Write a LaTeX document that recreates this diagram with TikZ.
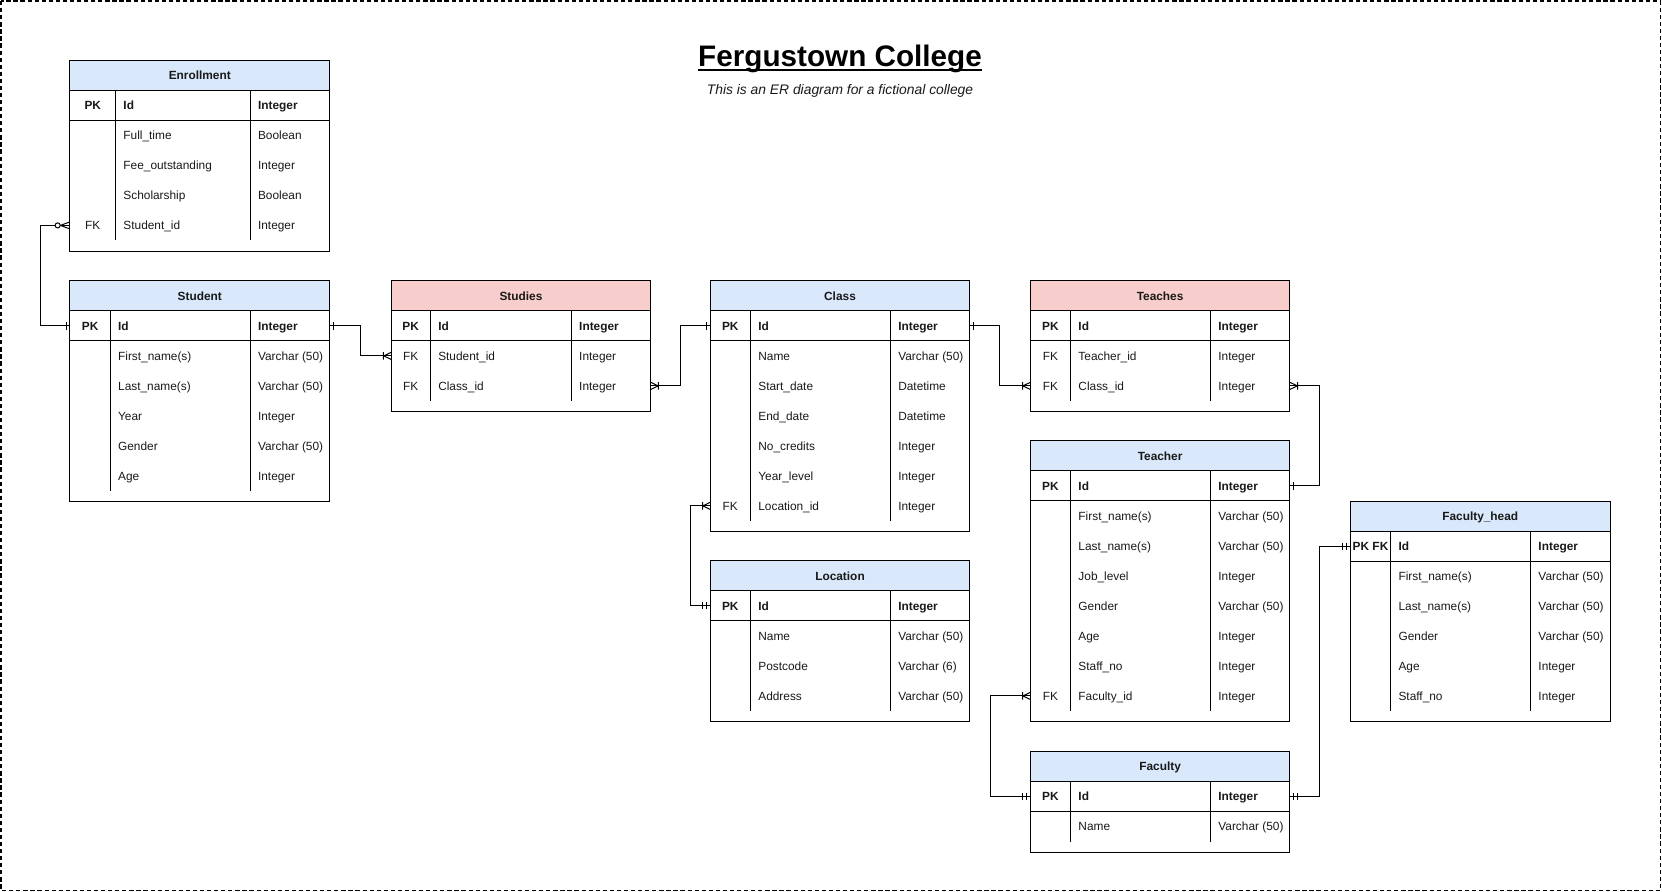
\documentclass[tikz,border=0pt]{standalone}
\usepackage{fontspec}
\setmainfont{Liberation Sans}
\usepackage{tikz}
\usetikzlibrary{arrows}
\definecolor{hdrblue}{HTML}{DAE8FC}
\definecolor{hdrred}{HTML}{F8CECC}

% crow's foot ends, drawn pointing right with the table edge at the origin
\pgfarrowsdeclare{erone}{erone}
{\pgfarrowsleftextend{-3pt}\pgfarrowsrightextend{0pt}}
{\pgfsetdash{}{0pt}\pgfsetbuttcap
 \pgfpathmoveto{\pgfpoint{-2.8pt}{2.6pt}}\pgfpathlineto{\pgfpoint{-2.8pt}{-2.6pt}}
 \pgfusepathqstroke}
\pgfarrowsdeclare{ermandone}{ermandone}
{\pgfarrowsleftextend{-6pt}\pgfarrowsrightextend{0pt}}
{\pgfsetdash{}{0pt}\pgfsetbuttcap
 \pgfpathmoveto{\pgfpoint{-2.5pt}{2.6pt}}\pgfpathlineto{\pgfpoint{-2.5pt}{-2.6pt}}
 \pgfpathmoveto{\pgfpoint{-5.3pt}{2.6pt}}\pgfpathlineto{\pgfpoint{-5.3pt}{-2.6pt}}
 \pgfusepathqstroke}
\pgfarrowsdeclare{eronemany}{eronemany}
{\pgfarrowsleftextend{-6pt}\pgfarrowsrightextend{0pt}}
{\pgfsetdash{}{0pt}\pgfsetbuttcap
 \pgfpathmoveto{\pgfpoint{0pt}{2.5pt}}\pgfpathlineto{\pgfpoint{-5.2pt}{0pt}}\pgfpathlineto{\pgfpoint{0pt}{-2.5pt}}
 \pgfpathmoveto{\pgfpoint{-5.4pt}{2.6pt}}\pgfpathlineto{\pgfpoint{-5.4pt}{-2.6pt}}
 \pgfusepathqstroke}
\pgfarrowsdeclare{erzeromany}{erzeromany}
{\pgfarrowsleftextend{-11pt}\pgfarrowsrightextend{0pt}}
{\pgfsetdash{}{0pt}\pgfsetbuttcap
 \pgfpathmoveto{\pgfpoint{0pt}{2.5pt}}\pgfpathlineto{\pgfpoint{-6.8pt}{0pt}}\pgfpathlineto{\pgfpoint{0pt}{-2.5pt}}
 \pgfusepathqstroke
 \pgfpathcircle{\pgfpoint{-8.7pt}{0pt}}{1.8pt}
 \pgfsetfillcolor{white}\pgfusepathqfillstroke}

% #1 name, #2 top left, #3 title, #4 header fill, #5 key column width, #6 pk key, #7 no. of rows, #8 rows
\newcommand{\ertable}[8]{%
  \begin{scope}[shift={#2}]
    \node[hdr,fill=#4] (#1) at (0,0) {#3};
    \node[rowbox] (#1-pk) at (0,28.3) {};
    \node[keycell,bold] (#1-pk-k) at (#5/2,42.45) {#6};
    \node[cell,bold] (#1-pk-n) at (#5+7,42.45) {Id};
    \node[cell,bold] (#1-pk-t) at (177,42.45) {Integer};
    \foreach \ky/\nm/\ty [count=\i] in {#8} {
      \node[rowbox] (#1-\i) at (0,28.3+28.3*\i) {};
      \node[keycell] (#1-\i-k) at (#5/2,42.45+28.3*\i) {\ky};
      \node[cell] (#1-\i-n) at (#5+7,42.45+28.3*\i) {\nm};
      \node[cell] (#1-\i-t) at (177,42.45+28.3*\i) {\ty};
    }
    \draw (0,0) rectangle (245,66.6+28.3*#7);
    \draw (0,56.6) -- (245,56.6);
    \draw (#5,28.3) -- (#5,56.6+28.3*#7);
    \draw (170,28.3) -- (170,56.6+28.3*#7);
  \end{scope}}

\begin{document}
\begin{tikzpicture}[x=0.75pt,y=-0.75pt,line width=0.7pt,
    every node/.style={font=\fontsize{8.4}{10}\selectfont,text=black!90}]
  \tikzset{hdr/.style={draw,anchor=north west,minimum width=183.75pt,minimum height=21.225pt,
      inner sep=0pt,outer sep=0pt,font=\fontsize{8.4}{10}\selectfont\bfseries,text height=1.5ex,text depth=.3ex}}
  \tikzset{rowbox/.style={anchor=north west,minimum width=183.75pt,minimum height=21.225pt,inner sep=0pt,outer sep=0pt}}
  \tikzset{keycell/.style={anchor=center,inner sep=0pt,text height=1.5ex,text depth=.3ex}}
  \tikzset{cell/.style={anchor=west,inner sep=0pt,text height=1.5ex,text depth=.3ex}}
  \tikzset{bold/.style={font=\fontsize{8.4}{10}\selectfont\bfseries}}
  \tikzset{rel/.style={draw=black,line width=0.7pt}}

  \useasboundingbox (0,0) rectangle (1568,841.5);
  \draw[line width=1.2pt,dash pattern=on 3pt off 2pt] (1,1) rectangle (1566.5,840);

  \node[anchor=base,inner sep=0pt,font=\fontsize{21}{24}\selectfont\bfseries,text=black] (title) at (792.5,63.2) {Fergustown College};
  \draw[line width=1.5pt] ([yshift=-2.1pt]title.base west) -- ([yshift=-2.1pt]title.base east);
  \node[anchor=base,inner sep=0pt,font=\fontsize{9.8}{12}\selectfont\itshape] (subtitle) at (792.5,89.6) {This is an ER diagram for a fictional college};

  \ertable{enroll}{(66,57)}{Enrollment}{hdrblue}{43}{PK}{4}
    {/Full\_time/Boolean, /Fee\_outstanding/Integer, /Scholarship/Boolean, FK/Student\_id/Integer}
  \ertable{student}{(66,265)}{Student}{hdrblue}{38}{PK}{5}
    {/First\_name(s)/Varchar (50), /Last\_name(s)/Varchar (50), /Year/Integer, /Gender/Varchar (50), /Age/Integer}
  \ertable{studies}{(369,265)}{Studies}{hdrred}{37}{PK}{2}
    {FK/Student\_id/Integer, FK/Class\_id/Integer}
  \ertable{class}{(670,265)}{Class}{hdrblue}{38}{PK}{6}
    {/Name/Varchar (50), /Start\_date/Datetime, /End\_date/Datetime, /No\_credits/Integer, /Year\_level/Integer, FK/Location\_id/Integer}
  \ertable{teaches}{(972,265)}{Teaches}{hdrred}{38}{PK}{2}
    {FK/Teacher\_id/Integer, FK/Class\_id/Integer}
  \ertable{teacher}{(972,416)}{Teacher}{hdrblue}{38}{PK}{7}
    {/First\_name(s)/Varchar (50), /Last\_name(s)/Varchar (50), /Job\_level/Integer, /Gender/Varchar (50), /Age/Integer, /Staff\_no/Integer, FK/Faculty\_id/Integer}
  \ertable{location}{(670,529)}{Location}{hdrblue}{38}{PK}{3}
    {/Name/Varchar (50), /Postcode/Varchar (6), /Address/Varchar (50)}
  \ertable{faculty}{(972,709)}{Faculty}{hdrblue}{38}{PK}{1}
    {/Name/Varchar (50)}
  \ertable{fhead}{(1274,473)}{Faculty\_head}{hdrblue}{38}{PK FK}{5}
    {/First\_name(s)/Varchar (50), /Last\_name(s)/Varchar (50), /Gender/Varchar (50), /Age/Integer, /Staff\_no/Integer}

  % relationships
  \draw[rel,erone-erzeromany] (student-pk.west) -- ++(-28,0) |- (enroll-4.west);
  \draw[rel,erone-eronemany] (student-pk.east) -- ++(29,0) |- (studies-1.west);
  \draw[rel,eronemany-erone] (studies-2.east) -- ++(28,0) |- (class-pk.west);
  \draw[rel,erone-eronemany] (class-pk.east) -- ++(28,0) |- (teaches-2.west);
  \draw[rel,eronemany-erone] (teaches-2.east) -- ++(28,0) |- (teacher-pk.east);
  \draw[rel,eronemany-ermandone] (class-6.west) -- ++(-19,0) |- (location-pk.west);
  \draw[rel,eronemany-ermandone] (teacher-7.west) -- ++(-38,0) |- (faculty-pk.west);
  \draw[rel,ermandone-ermandone] (faculty-pk.east) -- ++(28,0) |- (fhead-pk.west);
\end{tikzpicture}
\end{document}
